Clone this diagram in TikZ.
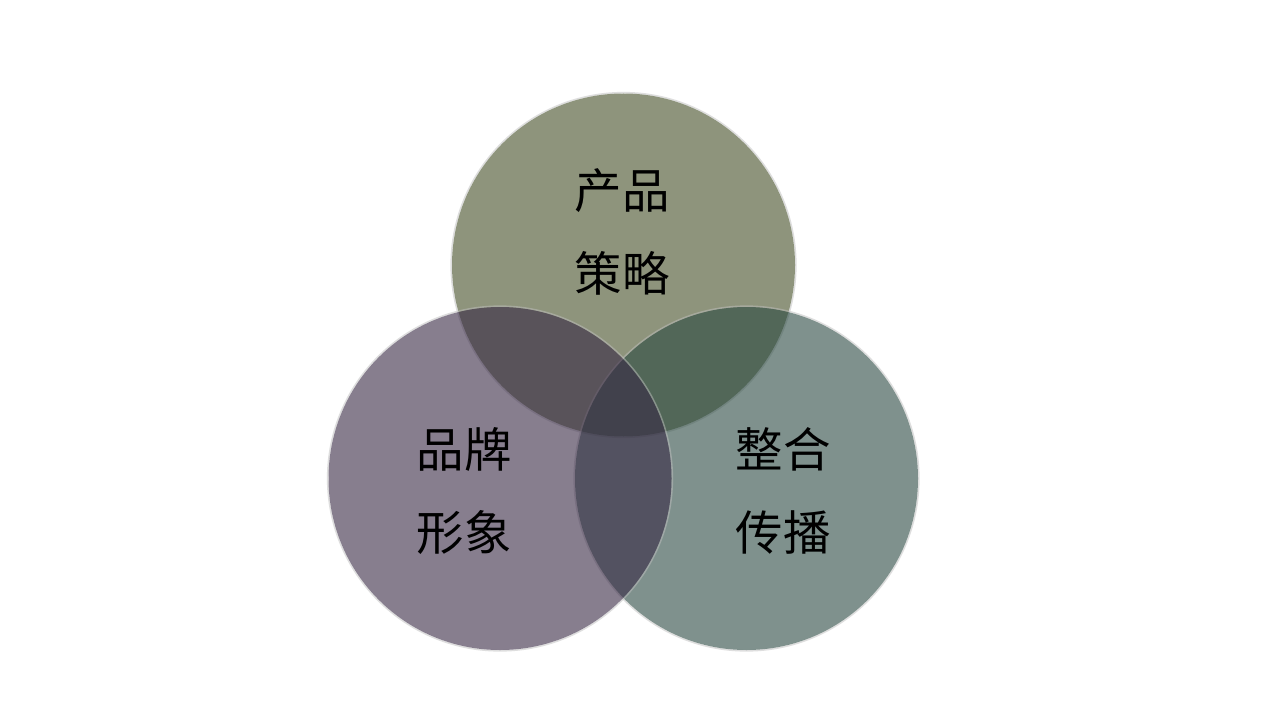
\documentclass[tikz,border=0pt]{standalone}
\usepackage{fontspec}
\newfontfamily\cjk{Noto Sans CJK SC}
\definecolor{ctop}{RGB}{67,78,37}
\definecolor{cleft}{RGB}{55,40,68}
\definecolor{cright}{RGB}{42,73,65}
\tikzset{
  venn/.style={circle, inner sep=0pt, minimum size=257.25pt, fill opacity=0.6},
  halo/.style={circle, inner sep=0pt, minimum size=258.5pt, draw=black!25, draw opacity=0.5, line width=1.2pt},
  lbl/.style={align=center, text=black, inner sep=0pt, font=\cjk\fontsize{35.6}{62}\selectfont}
}
\begin{document}
\begin{tikzpicture}[x=0.75pt,y=-0.75pt]
\fill[white] (0,0) rectangle (1280,720);
\useasboundingbox (0,0) rectangle (1280,720);
\node[halo] (htop) at (623.5,265) {};
\node[venn, fill=ctop] (top) at (623.5,265) {};
\node[halo] (hright) at (746.5,478.5) {};
\node[venn, fill=cright] (right) at (746.5,478.5) {};
\node[halo] (hleft) at (500,478.5) {};
\node[venn, fill=cleft] (left) at (500,478.5) {};
\node[lbl] (ttop) at (622,232) {产品\\策略};
\node[lbl] (tleft) at (464,491) {品牌\\形象};
\node[lbl] (tright) at (783,491) {整合\\传播};
\end{tikzpicture}
\end{document}
